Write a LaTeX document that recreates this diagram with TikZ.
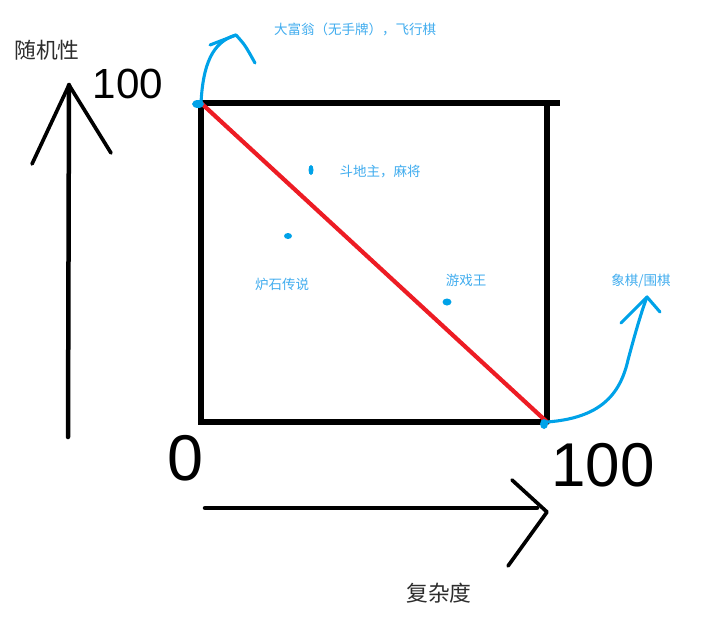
\documentclass[tikz,border=0pt]{standalone}
\usepackage{fontspec}
\setmainfont{Liberation Sans}
\newfontfamily\cjk{Noto Sans CJK SC}
\usetikzlibrary{positioning}

\definecolor{paintblue}{RGB}{0,162,232}
\definecolor{labelblue}{RGB}{64,172,238}
\definecolor{paintred}{RGB}{237,28,36}
\definecolor{labelgray}{RGB}{45,45,45}

\begin{document}
\begin{tikzpicture}[x=0.025cm, y=-0.025cm, line cap=round, line join=round,
        pen/.style={line width=3.2pt},
        frame/.style={line width=4pt, line cap=rect},
        blueline/.style={paintblue, line width=2.2pt},
        tag/.style={text=labelblue, inner sep=0pt, font=\cjk\fontsize{9.6}{11}\selectfont},
        axislabel/.style={text=labelgray, inner sep=0pt, font=\cjk\fontsize{15.5}{18}\selectfont},
        digit/.style={inner sep=0pt, font=\fontsize{#1}{#1}\selectfont}]

    \useasboundingbox (0,0) rectangle (720,617);

    % --- corners of the square ---
    \coordinate (tl) at (201,103);
    \coordinate (tr) at (547,103);
    \coordinate (br) at (547,422);
    \coordinate (bl) at (201,422);

    % --- axis arrows ---
    \coordinate (yfoot) at (68,437);
    \coordinate (ytip)  at (69,85);
    \coordinate (xfoot) at (205,508);
    \coordinate (xtip)  at (547,512);

    \draw[pen] (yfoot) -- (ytip);
    \draw[pen, line width=2.6pt] (32,164) -- (ytip) -- (111,153);
    \draw[pen] (xfoot) -- (537,508);
    \draw[pen, line width=2.6pt] (512,480) -- (xtip) -- (508,566);

    % --- axis labels ---
    \node[axislabel] (rand) at (47,50)  {随机性};
    \node[axislabel] (cplx) at (439,593) {复杂度};

    % --- scale numbers ---
    \node[digit=30] (ymax) at (128,84)  {100};
    \node[digit=46] (zero) at (185,458) {0};
    \node[digit=44] (xmax) at (603,465) {100};

    % --- square and diagonal ---
    \draw[frame] (bl) -- (tl) -- ++(356,0);
    \draw[frame] (tr) -- (br) -- (bl);
    \draw[paintred, line width=3pt] (tl) -- (br);

    % --- blue arrows out of the corners ---
    \fill[paintblue] (198,104) ellipse (6 and 4);
    \coordinate (ltip) at (236,35);
    \draw[blueline] (tl) .. controls (203,65) and (212,42) .. (ltip);
    \draw[blueline] (210,45) -- (ltip) .. controls (245,45) .. (255,63);

    \fill[paintblue] (544,424) ellipse (4 and 5);
    \coordinate (rtip) at (647,297);
    \draw[blueline] (br) .. controls (600,418) and (620,395) .. (628,360)
        .. controls (636,330) and (642,310) .. (rtip);
    \draw[blueline] (621,323) -- (rtip) -- (660,312);

    % --- game markers ---
    \fill[paintblue] (311,170) ellipse (2.5 and 5);
    \fill[paintblue] (288,236) ellipse (4 and 3);
    \fill[paintblue] (447,302) ellipse (4.5 and 3.5);

    % --- game labels ---
    \node[tag] (mono)  at (355,29)  {大富翁（无手牌），飞行棋};
    \node[tag] (ddz)   at (380,172) {斗地主，麻将};
    \node[tag] (hs)    at (282,284) {炉石传说};
    \node[tag] (ygo)   at (466,280) {游戏王};
    \node[tag] (chess) at (641,281) {象棋/围棋};

\end{tikzpicture}
\end{document}
